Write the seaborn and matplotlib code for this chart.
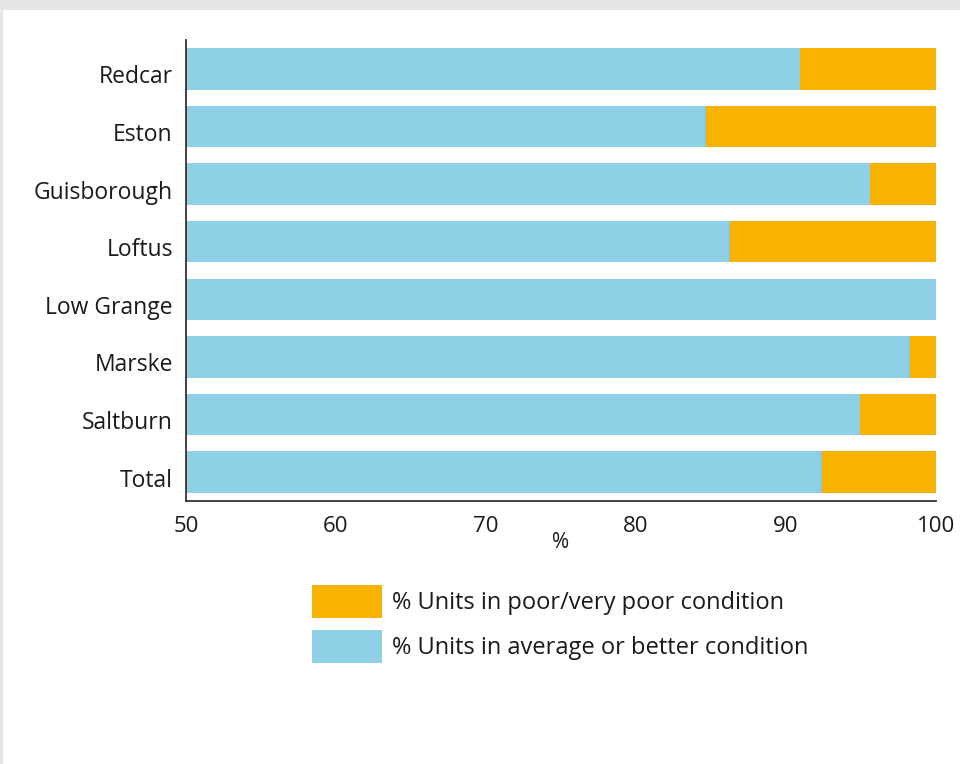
import matplotlib
matplotlib.use("Agg")
import matplotlib.pyplot as plt
import matplotlib.patches as mpatches
import matplotlib.transforms as mtransforms
import seaborn as sns
import pandas as pd

# Area names and condition shares (percent of units)
areas = ["Redcar", "Eston", "Guisborough", "Loftus", "Low Grange",
         "Marske", "Saltburn", "Total"]
average_or_better = [90.9, 84.6, 95.6, 86.2, 100.0, 98.2, 94.9, 92.3]
poor_or_very_poor = [9.1, 15.4, 4.4, 13.8, 0.0, 1.8, 5.1, 7.7]
x_ticks = [50, 60, 70, 80, 90, 100]

label_poor = "% Units in poor/very poor condition"
label_avg = "% Units in average or better condition"

BLUE = "#8ED0E5"
ORANGE = "#F8B200"
TEXT = "#1a1a1a"

df = pd.DataFrame({
    "area": areas,
    "avg": average_or_better,
    "poor": poor_or_very_poor,
})
df["total"] = df["avg"] + df["poor"]

sns.set_theme(style="white")
plt.rcParams["font.family"] = ["Open Sans", "DejaVu Sans"]

fig = plt.figure(figsize=(9.6, 7.64), dpi=100)
W, H = 960, 764
ax = fig.add_axes([186 / W, 1 - 501 / H, 750 / W, 461 / H])

# Stacked bars: the full stack in orange, the lower segment in blue on top
sns.barplot(data=df, x="total", y="area", color=ORANGE, orient="h",
            width=0.72, saturation=1, linewidth=0, ax=ax, zorder=2)
sns.barplot(data=df, x="avg", y="area", color=BLUE, orient="h",
            width=0.72, saturation=1, linewidth=0, ax=ax, zorder=3)

ax.set_xlim(50, 100)
ax.set_ylim(len(areas) - 0.5, -0.5)
ax.set_xticks(x_ticks)
ax.set_xticklabels([str(t) for t in x_ticks])
ax.set_ylabel("")
ax.set_xlabel("%", fontsize=15, color=TEXT)
ax.xaxis.set_label_coords((561 - 186) / 750, -0.068)

for s in ["top", "right"]:
    ax.spines[s].set_visible(False)
for s in ["left", "bottom"]:
    ax.spines[s].set_color("#333333")
    ax.spines[s].set_linewidth(1.3)
    ax.spines[s].set_zorder(5)

ax.tick_params(axis="x", direction="in", length=7, width=1.3, color="#333333",
               labelsize=16, labelcolor=TEXT, pad=11)
ax.tick_params(axis="y", length=0, labelsize=16.5, labelcolor=TEXT, pad=9.5)

# Category names sit slightly below the bar centres
shift = mtransforms.ScaledTranslation(0, -4 / 72, fig.dpi_scale_trans)
for lbl in ax.get_yticklabels():
    lbl.set_transform(lbl.get_transform() + shift)

handles = [mpatches.Patch(facecolor=ORANGE, edgecolor="none", label=label_poor),
           mpatches.Patch(facecolor=BLUE, edgecolor="none", label=label_avg)]
fig.legend(handles=handles, loc="upper left",
           bbox_to_anchor=(310 / W, 1 - 583 / H), frameon=False,
           fontsize=17, handlelength=2.97, handleheight=1.77,
           handletextpad=0.42, labelspacing=0.5, labelcolor=TEXT,
           borderaxespad=0, borderpad=0.1)

# Light grey frame along the top and left edges
fig.patches.append(mpatches.Rectangle((0, 1 - 10 / H), 1, 10 / H,
                                      transform=fig.transFigure,
                                      facecolor="#E6E6E6", edgecolor="none"))
fig.patches.append(mpatches.Rectangle((0, 0), 3 / W, 1,
                                      transform=fig.transFigure,
                                      facecolor="#E6E6E6", edgecolor="none"))

fig.savefig("out.png", dpi=100, facecolor="white")
